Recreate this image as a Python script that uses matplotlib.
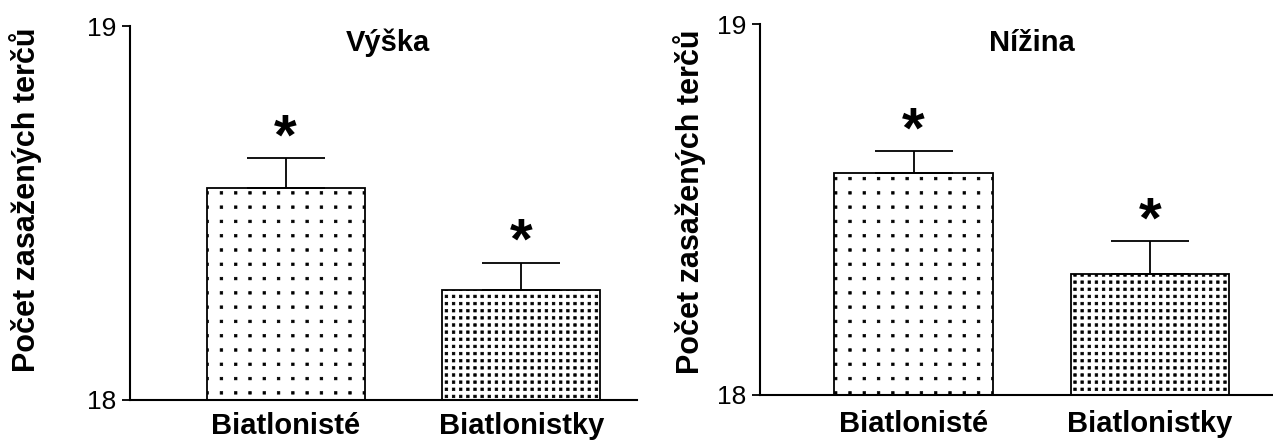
import matplotlib
matplotlib.use("Agg")
import matplotlib.pyplot as plt
import matplotlib.hatch as mhatch
from matplotlib.path import Path
import numpy as np

groups = ["Biatlonisté", "Biatlonistky"]
panel_titles = ["Výška", "Nížina"]
vyska_mean = [18.566, 18.293]
vyska_err = [0.080, 0.074]
nizina_mean = [18.599, 18.326]
nizina_err = [0.058, 0.088]
y_ticks = [18, 19]
y_label = "Počet zasažených terčů"

plt.rcParams['font.family'] = ['Liberation Sans', 'DejaVu Sans']
plt.rcParams['hatch.linewidth'] = 0.5


class GridDots(mhatch.HatchPatternBase):
    # square dot grid instead of the staggered default; '.' sparse, '..' dense
    def __init__(self, hatch, density):
        self.num_rows = hatch.count('.') * 7
        self.num_vertices = self.num_rows ** 2 * 5

    def set_vertices_and_codes(self, vertices, codes):
        step = 1.0 / self.num_rows
        h = 0.0128
        sq = np.array([[-h, -h], [h, -h], [h, h], [-h, h], [-h, -h]])
        k = 0
        for i in range(self.num_rows):
            for j in range(self.num_rows):
                vertices[k:k + 5] = sq + ((j + 0.5) * step, (i + 0.5) * step)
                codes[k:k + 5] = [Path.MOVETO, Path.LINETO, Path.LINETO,
                                  Path.LINETO, Path.CLOSEPOLY]
                k += 5


mhatch._hatch_types[mhatch._hatch_types.index(mhatch.SmallFilledCircles)] = GridDots

fig = plt.figure(figsize=(12.73, 4.43), dpi=100)
ax_left = fig.add_axes([0.1021, 0.0971, 0.3983, 0.8442])
ax_right = fig.add_axes([0.5970, 0.1084, 0.4030, 0.8374])

panels = [
    (ax_left, vyska_mean, vyska_err, panel_titles[0], (-0.66, 1.49), 0.509, 0.955, -0.207, 0.535, 9),
    (ax_right, nizina_mean, nizina_err, panel_titles[1], (-0.65, 1.52), 0.53, 0.948, -0.138, 0.522, 11),
]

for ax, mean, err, title, xlim, tx, ty, lx, ly, xpad in panels:
    x = np.arange(len(groups))
    for i in range(len(groups)):
        ax.bar(x[i], mean[i] - 18, bottom=18, width=0.67, color='white',
               edgecolor='black', linewidth=1.3, hatch='.' * (i + 1), zorder=2)
    ax.errorbar(x, mean, yerr=[[0] * len(err), err], fmt='none', ecolor='black',
                elinewidth=1.3, capsize=28, capthick=1.3, zorder=3)
    for i in range(len(groups)):
        ax.annotate('*', xy=(x[i], mean[i] + err[i]), xytext=(0, 3),
                    textcoords='offset points', ha='center', va='baseline',
                    fontsize=42, fontweight='bold')

    ax.set_ylim(18, 19)
    ax.set_xlim(*xlim)
    ax.set_yticks(y_ticks)
    ax.set_yticklabels([str(t) for t in y_ticks], fontsize=19)
    ax.set_xticks(x)
    ax.set_xticklabels(groups, fontsize=21, fontweight='bold')
    ax.tick_params(axis='y', length=6, width=1.3, pad=4)
    ax.tick_params(axis='x', length=0, pad=xpad)
    for side in ['top', 'right']:
        ax.spines[side].set_visible(False)
    for side in ['left', 'bottom']:
        ax.spines[side].set_linewidth(1.5)
    ax.text(tx, ty, title, transform=ax.transAxes, ha='center', va='center',
            fontsize=21, fontweight='bold')
    ax.set_ylabel(y_label, fontsize=22, fontweight='bold', va='center')
    ax.yaxis.set_label_coords(lx, ly)
    ax.patch.set_alpha(0)

fig.savefig("out.png", dpi=100)
